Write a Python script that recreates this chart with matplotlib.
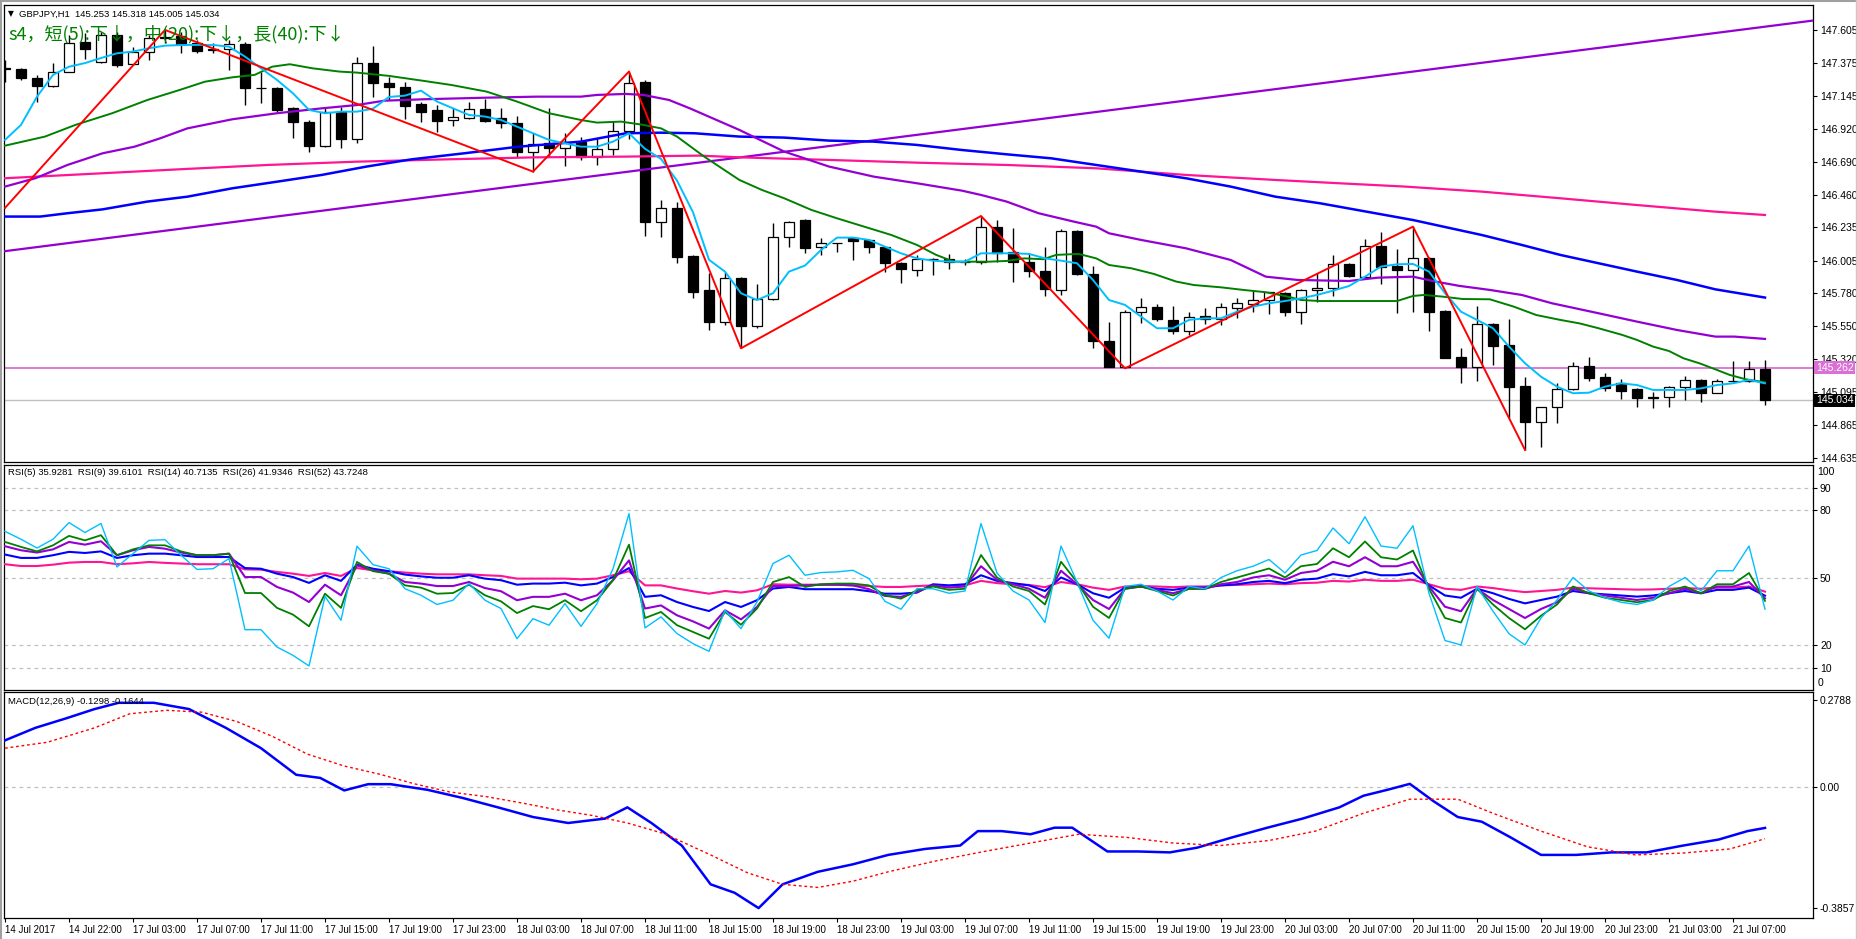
import matplotlib.pyplot as plt
import numpy as np

W, H = 1858, 939

# GBPJPY H1, 14 Jul 18:00 .. 21 Jul 09:00 (bar index 0..110)
opens = [
    147.339, 147.332, 147.269, 147.219, 147.311, 147.519, 147.380, 147.570, 147.367, 147.450,
    147.547, 147.563, 147.512, 147.466, 147.471, 147.505, 147.200, 147.200, 147.061, 146.964,
    146.802, 147.034, 146.846, 147.374, 147.239, 147.207, 147.089, 147.050, 146.980, 146.992,
    147.054, 146.992, 146.957, 146.761, 146.818, 146.784, 146.830, 146.721, 146.779, 146.906,
    147.242, 146.275, 146.367, 146.037, 145.801, 145.576, 145.882, 145.553, 145.736, 146.171,
    146.286, 146.097, 146.125, 146.159, 146.148, 146.097, 145.986, 145.939, 146.014, 146.016,
    145.995, 145.993, 146.240, 146.062, 145.993, 145.935, 145.801, 146.210, 145.909, 145.447,
    145.264, 145.646, 145.680, 145.593, 145.516, 145.620, 145.600, 145.673, 145.704, 145.731,
    145.778, 145.646, 145.801, 145.812, 145.979, 145.893, 146.108, 145.970, 145.939, 146.025,
    145.655, 145.333, 145.269, 145.562, 145.419, 145.135, 144.887, 144.987, 145.111, 145.276,
    145.195, 145.153, 145.111, 145.054, 145.056, 145.130, 145.176, 145.088, 145.169, 145.169,
    145.253]
highs = [
    147.397, 147.339, 147.293, 147.374, 147.570, 147.582, 147.593, 147.593, 147.489, 147.570,
    147.605, 147.593, 147.535, 147.512, 147.535, 147.524, 147.316, 147.212, 147.073, 146.980,
    147.073, 147.073, 147.420, 147.496, 147.281, 147.246, 147.108, 147.084, 147.061, 147.108,
    147.126, 147.061, 147.008, 146.888, 147.061, 146.888, 146.865, 146.853, 146.973, 147.316,
    147.258, 146.425, 146.414, 146.044, 145.916, 145.928, 145.893, 145.842, 146.263, 146.280,
    146.290, 146.159, 146.129, 146.171, 146.152, 146.101, 145.993, 146.044, 146.020, 146.051,
    146.014, 146.314, 146.286, 146.228, 146.055, 146.097, 146.222, 146.217, 145.967, 145.581,
    145.662, 145.748, 145.701, 145.690, 145.650, 145.678, 145.713, 145.743, 145.801, 145.789,
    145.789, 145.805, 145.916, 146.044, 145.990, 146.155, 146.201, 146.085, 146.240, 146.028,
    145.662, 145.396, 145.690, 145.574, 145.600, 145.195, 144.990, 145.153, 145.299, 145.333,
    145.227, 145.183, 145.118, 145.091, 145.137, 145.204, 145.181, 145.181, 145.308, 145.308,
    145.318]
lows = [
    147.246, 147.258, 147.108, 147.212, 147.311, 147.404, 147.374, 147.350, 147.362, 147.397,
    147.512, 147.443, 147.443, 147.443, 147.327, 147.084, 147.096, 147.038, 146.853, 146.756,
    146.795, 146.788, 146.818, 147.142, 147.119, 146.987, 146.969, 146.899, 146.939, 146.987,
    146.969, 146.927, 146.726, 146.622, 146.726, 146.663, 146.703, 146.668, 146.737, 146.846,
    146.178, 146.166, 145.986, 145.743, 145.523, 145.558, 145.396, 145.535, 145.731, 146.101,
    146.060, 146.044, 146.067, 146.009, 146.055, 145.928, 145.847, 145.898, 145.905, 145.944,
    145.974, 145.981, 145.997, 145.859, 145.893, 145.759, 145.766, 145.905, 145.396, 145.269,
    145.257, 145.569, 145.588, 145.495, 145.488, 145.565, 145.558, 145.604, 145.650, 145.632,
    145.623, 145.562, 145.715, 145.761, 145.893, 145.882, 145.842, 145.643, 145.650, 145.519,
    145.327, 145.153, 145.172, 145.280, 144.910, 144.691, 144.709, 144.880, 145.108, 145.169,
    145.100, 145.044, 144.991, 144.980, 144.987, 145.037, 145.021, 145.084, 145.165, 145.165,
    145.005]
closes = [
    147.335, 147.269, 147.219, 147.311, 147.512, 147.471, 147.570, 147.362, 147.450, 147.547,
    147.555, 147.505, 147.461, 147.471, 147.505, 147.200, 147.203, 147.050, 146.969, 146.802,
    147.034, 146.848, 147.374, 147.239, 147.207, 147.080, 147.038, 146.976, 146.999, 147.054,
    146.976, 146.957, 146.761, 146.814, 146.784, 146.830, 146.726, 146.779, 146.906, 147.235,
    146.275, 146.367, 146.032, 145.789, 145.581, 145.882, 145.553, 145.736, 146.171, 146.275,
    146.094, 146.129, 146.127, 146.143, 146.101, 145.986, 145.944, 146.014, 146.016, 145.993,
    145.997, 146.240, 146.060, 145.993, 145.935, 145.805, 146.210, 145.909, 145.447, 145.269,
    145.646, 145.680, 145.597, 145.516, 145.616, 145.597, 145.680, 145.708, 145.731, 145.785,
    145.646, 145.801, 145.817, 145.979, 145.900, 146.108, 145.963, 145.939, 146.025, 145.650,
    145.331, 145.269, 145.562, 145.414, 145.130, 144.887, 144.987, 145.111, 145.276, 145.192,
    145.118, 145.102, 145.049, 145.056, 145.130, 145.176, 145.084, 145.169, 145.172, 145.253,
    145.034]

# moving averages
ma5 = [
    146.842, 146.946, 147.142, 147.293, 147.350, 147.375, 147.410, 147.443, 147.455, 147.478,
    147.496, 147.500, 147.501, 147.501, 147.489, 147.420, 147.339, 147.258, 147.165, 147.050,
    147.027, 147.038, 147.038, 147.059, 147.140, 147.149, 147.184, 147.108, 147.061, 147.015,
    147.004, 146.980, 146.934, 146.888, 146.842, 146.818, 146.795, 146.795, 146.830, 146.888,
    146.780, 146.710, 146.560, 146.340, 146.010, 145.928, 145.778, 145.731, 145.778, 145.928,
    145.970, 146.078, 146.164, 146.164, 146.148, 146.101, 146.055, 146.020, 146.004, 145.997,
    145.997, 146.055, 146.055, 146.055, 146.051, 146.020, 146.004, 145.986, 145.870, 145.731,
    145.697, 145.616, 145.535, 145.535, 145.593, 145.604, 145.604, 145.650, 145.685, 145.708,
    145.724, 145.743, 145.766, 145.796, 145.828, 145.893, 145.963, 145.979, 145.981, 145.928,
    145.778, 145.650, 145.593, 145.535, 145.408, 145.292, 145.199, 145.130, 145.084, 145.088,
    145.130, 145.153, 145.141, 145.107, 145.107, 145.107, 145.118, 145.141, 145.153, 145.176,
    145.153]

ma20_x = [0, 2.5, 4.4, 6.7, 8.9, 10.9, 12.5, 14.2, 15.6, 16.7, 17.8, 19.2, 20.9, 22, 24,
          26.2, 27.9, 30.1, 32, 34, 36, 37, 38.5, 39.9, 41, 42, 43.7, 45.9, 47.3, 48.7,
          50.4, 52, 53.7, 55.4, 57, 58.2, 59.3, 60.4, 61.5, 62.6, 63.7, 64.9, 65.7, 67.1,
          68.2, 69, 70.4, 71.8, 73.2, 74.3, 76, 77.4, 78.8, 80.2, 81, 82.2, 84.1, 87, 88,
          88.7, 89.9, 91.1, 92.8, 94.3, 95.7, 97.2, 98.4, 99.6, 101.1, 102, 103, 104,
          104.9, 105.9, 106.9, 107.8, 108.8, 110]
ma20_y = [146.802, 146.865, 146.946, 147.027, 147.119, 147.188, 147.246, 147.276, 147.293,
          147.350, 147.367, 147.339, 147.316, 147.309, 147.286, 147.251, 147.223, 147.177,
          147.108, 147.027, 146.980, 146.962, 146.969, 146.946, 146.922, 146.865, 146.726,
          146.564, 146.495, 146.437, 146.356, 146.298, 146.240, 146.182, 146.113, 146.044,
          145.997, 145.997, 145.997, 146.002, 146.020, 146.014, 146.044, 146.051, 146.020,
          145.974, 145.951, 145.912, 145.859, 145.835, 145.819, 145.801, 145.785, 145.754,
          145.731, 145.724, 145.724, 145.724, 145.759, 145.766, 145.754, 145.738, 145.736,
          145.685, 145.627, 145.593, 145.569, 145.535, 145.488, 145.454, 145.408, 145.377,
          145.327, 145.292, 145.250, 145.211, 145.181, 145.160]

ma40_x = [0, 1.9, 3.9, 6.1, 8.1, 9.7, 11.4, 14.2, 17, 19.8, 22, 23.7, 26.2, 30.1, 33.2, 36,
          37, 38.8, 39.9, 41.5, 42.8, 45.9, 48.7, 51.5, 54.3, 57, 59.8, 61, 62.6, 64.6,
          66.8, 68.2, 69, 71, 73.8, 76.6, 78.8, 80.8, 84, 85.8, 88, 89.4, 90.9, 92.8, 94.8,
          96.7, 99.6, 102, 104.5, 106.9, 108.1, 110]
ma40_y = [146.518, 146.576, 146.668, 146.749, 146.795, 146.853, 146.922, 146.985, 147.027,
          147.061, 147.084, 147.114, 147.124, 147.135, 147.142, 147.142, 147.154, 147.161,
          147.154, 147.119, 147.061, 146.911, 146.761, 146.657, 146.587, 146.541, 146.490,
          146.460, 146.414, 146.333, 146.275, 146.240, 146.194, 146.148, 146.090, 146.009,
          145.893, 145.870, 145.863, 145.886, 145.893, 145.859, 145.829, 145.801, 145.766,
          145.708, 145.639, 145.581, 145.523, 145.477, 145.477, 145.461]

ma_blue_x = [0, 2.2, 3.9, 6.1, 8.9, 11.4, 14.2, 17, 19.8, 22.6, 25.4, 28.7, 32.1, 36, 38.8,
             41, 43.1, 45.9, 48.7, 51.5, 54.3, 57, 59.8, 62.6, 65.4, 68.2, 71, 73.8, 76.6,
             79.4, 82.2, 85.1, 88, 89.9, 92.3, 94.8, 97.2, 99.6, 102, 104.5, 106.9, 110]
ma_blue_y = [146.310, 146.310, 146.333, 146.360, 146.414, 146.448, 146.506, 146.552, 146.599,
             146.657, 146.707, 146.749, 146.795, 146.830, 146.888, 146.892, 146.888, 146.865,
             146.858, 146.837, 146.830, 146.807, 146.772, 146.742, 146.714, 146.668, 146.622,
             146.576, 146.518, 146.448, 146.402, 146.344, 146.286, 146.240, 146.182, 146.113,
             146.044, 145.986, 145.928, 145.870, 145.805, 145.748]

ma_pink_x = [0, 5.3, 10.9, 16.4, 22, 27.6, 33.2, 38.8, 43.4, 45.9, 51.5, 57, 62.6, 68.2, 73.8,
             79.4, 82.7, 87.5, 92.3, 97.2, 102, 106.9, 110]
ma_pink_y = [146.576, 146.606, 146.638, 146.668, 146.691, 146.707, 146.721, 146.726, 146.733,
             146.721, 146.703, 146.684, 146.668, 146.645, 146.599, 146.564, 146.545, 146.518,
             146.483, 146.437, 146.390, 146.344, 146.321]

zigzag_x = [0, 10, 33, 39, 46, 61, 70, 88, 95]
zigzag_y = [146.37, 147.605, 146.622, 147.316, 145.396, 146.314, 145.257, 146.240, 144.691]

trend_x = [0, 113]
trend_y = [146.07, 147.67]

hline_price = 145.262
bid_price = 145.034

price_ticks = [147.605, 147.375, 147.145, 146.920, 146.690, 146.460, 146.235,
               146.005, 145.780, 145.550, 145.320, 145.095, 144.865, 144.635]

# RSI panel
rsi5 = [70.5, 67.0, 63.1, 67.0, 74.4, 70.0, 74.0, 54.7, 60.6, 66.5,
        66.8, 59.9, 53.6, 53.9, 58.4, 26.8, 26.8, 19.1, 15.4, 10.7,
        41.6, 31.0, 63.9, 55.7, 53.9, 45.0, 42.1, 38.0, 39.9, 47.3,
        39.9, 36.2, 22.8, 31.7, 28.8, 38.4, 28.3, 38.4, 53.9, 78.4,
        27.6, 32.5, 25.1, 20.6, 17.2, 35.4, 27.3, 39.1, 56.2, 59.9,
        51.0, 52.2, 52.5, 53.2, 49.5, 39.4, 35.9, 45.1, 45, 43,
        44, 74, 52, 44, 40, 30, 64, 48, 31, 23,
        46, 47, 44, 40, 46, 45, 50, 53, 55, 58,
        52, 60, 62, 72, 65, 77, 64, 63, 73, 43,
        22, 20, 46, 35, 25, 20, 32, 40, 50, 44,
        41, 39, 38, 40, 46, 50, 44, 53, 53, 64,
        35.93]
rsi9 = [65.8, 63.6, 61.6, 64.3, 68.5, 66.5, 68.8, 59.9, 62.5, 64.3,
        64.3, 61.6, 59.9, 59.9, 60.6, 43.1, 43.1, 36.5, 33.5, 28.3,
        42.8, 36.5, 56.9, 52.8, 51.7, 46.5, 45.5, 42.8, 43.1, 46.8,
        42.1, 39.4, 34.2, 37.3, 35.9, 39.9, 35.0, 39.9, 48.8, 64.6,
        32.0, 34.7, 28.8, 25.8, 22.8, 34.7, 29.0, 36.2, 48.0, 50.2,
        45.8, 47.0, 47.3, 47.3, 46.5, 42.1, 40.6, 44.3, 46, 44.5,
        45, 60, 50, 46, 44, 38, 57, 48, 37, 32,
        45, 46, 44, 42, 45, 45, 48, 50, 52, 54,
        50, 55, 56, 63, 59, 66, 59, 58, 62, 45,
        32, 30, 45, 38, 32, 27, 33, 38, 46, 43,
        41, 40, 39, 40, 44, 46, 43, 47, 47, 52,
        39.61]
rsi14 = [63.9, 62.1, 61.1, 62.5, 65.8, 64.6, 66.1, 59.9, 62.1, 63.6,
         62.8, 61.1, 59.9, 59.9, 60.6, 50.2, 50.2, 45.8, 43.3, 39.1,
         46.8, 42.1, 55.4, 53.2, 51.7, 48.0, 47.3, 46.2, 46.2, 48.0,
         45.3, 43.9, 39.9, 41.4, 41.4, 42.8, 39.9, 42.1, 48.8, 57.6,
         36.2, 37.6, 33.2, 30.5, 27.3, 35.4, 31.4, 36.9, 46.2, 46.2,
         46.5, 46.8, 46.8, 46.5, 44.8, 41.8, 41.4, 43.6, 46.5, 45.5,
         46, 55, 49, 47, 45, 41, 53, 47, 40, 36,
         45, 46, 44.5, 43, 45, 45, 47, 48, 50, 51,
         49, 52, 53, 57, 55, 59, 55, 55, 57, 46,
         37, 35, 45, 40, 36, 32, 36, 39, 45, 43,
         42, 41, 40, 41, 43, 45, 43, 46, 46, 48,
         40.71]
rsi26 = [60.2, 58.7, 58.7, 59.9, 61.4, 60.9, 61.6, 58.7, 59.9, 60.6,
         60.6, 59.9, 59.1, 59.1, 59.1, 54.2, 53.9, 51.7, 50.2, 47.6,
         51.0, 48.5, 55.7, 53.9, 52.8, 51.3, 50.5, 49.9, 49.9, 51.0,
         49.5, 48.8, 46.8, 47.3, 47.3, 47.7, 46.5, 47.3, 50.2, 54.2,
         41.4, 42.1, 39.1, 36.9, 35.1, 39.1, 36.9, 39.9, 45.1, 45.8,
         44.8, 44.8, 44.8, 44.8, 43.9, 42.8, 42.8, 43.3, 47, 46.5,
         47, 51, 48.5, 47.5, 46.5, 44, 50, 47, 43, 41,
         45.5, 46, 45, 44.5, 45.5, 45.5, 46.5, 47, 48, 48.5,
         47.5, 49, 49.5, 51.5, 50.5, 52.5, 51, 51, 52, 46.5,
         42, 41, 45, 43, 40.5, 38.5, 40, 41.5, 44, 43,
         42.5, 42, 41.5, 42, 43, 44, 43, 44.5, 44.5, 45.5,
         41.93]
rsi52 = [55.9, 55.1, 55.1, 55.7, 56.6, 56.9, 56.9, 55.9, 56.3, 56.9,
         56.5, 56.2, 55.9, 55.9, 55.9, 53.6, 53.5, 52.5, 51.7, 50.7,
         52.0, 50.7, 54.2, 53.2, 52.8, 52.2, 51.7, 51.4, 51.4, 51.4,
         51.0, 50.7, 49.5, 49.5, 49.5, 49.5, 49.2, 49.5, 51.0, 52.8,
         46.5, 46.5, 45.1, 43.9, 42.8, 44.0, 43.3, 44.3, 47.0, 46.8,
         46.8, 46.8, 46.8, 46.5, 46.2, 45.8, 45.8, 46.2, 46.5, 46.3,
         46.5, 48.5, 47.5, 47, 46.7, 45.7, 48, 47, 45.5, 44.5,
         46, 46.2, 46, 45.7, 46, 46, 46.5, 46.7, 47, 47.3,
         47, 47.5, 47.7, 48.5, 48.2, 49, 48.5, 48.5, 49, 47,
         45, 44.5, 46, 45.3, 44.3, 43.5, 44, 44.5, 45.5, 45.2,
         45, 44.8, 44.6, 44.7, 45, 45.3, 45, 45.5, 45.5, 46,
         43.72]
rsi_levels = [90, 80, 50, 20, 10]

# MACD panel
macd_x = [0, 1.9, 3.8, 5.6, 7.1, 9.3, 11.5, 13.8, 16, 18.2, 19.7, 21.2, 22.7, 24.1, 26.4,
          28.6, 30.8, 33, 35.2, 37.5, 38.9, 40.4, 42.3, 44.1, 45.6, 47.1, 48.6, 50.8, 53,
          55.2, 57.5, 59.7, 60.8, 62.3, 64.1, 65.6, 66.7, 68.9, 70.8, 72.8, 74.5, 76.7,
          78.9, 81.1, 83.4, 84.9, 86.4, 87.8, 89.3, 90.8, 92.3, 94.1, 96, 98.2, 100.4,
          102.6, 104.9, 107.1, 108.9, 110]
macd_y = [0.15, 0.19, 0.22, 0.25, 0.27, 0.27, 0.25, 0.19, 0.125, 0.04, 0.03, -0.01, 0.01,
          0.01, -0.008, -0.034, -0.064, -0.095, -0.114, -0.10, -0.064, -0.114, -0.186,
          -0.31, -0.337, -0.386, -0.31, -0.27, -0.246, -0.216, -0.197, -0.186, -0.14,
          -0.14, -0.15, -0.129, -0.129, -0.205, -0.205, -0.208, -0.193, -0.16, -0.129,
          -0.10, -0.064, -0.027, -0.008, 0.011, -0.045, -0.095, -0.11, -0.16, -0.216,
          -0.216, -0.208, -0.208, -0.186, -0.167, -0.14, -0.1298]
signal_x = [0, 2.65, 5.6, 7.8, 10.1, 12.3, 14.5, 16.7, 18.9, 21.2, 23.4, 25.6, 27.8, 30.1,
            32.3, 34.5, 36.7, 38.9, 41.2, 44.1, 46.4, 48.6, 50.8, 53, 55.2, 58.2, 61.2,
            64.1, 67.1, 70.1, 73, 76, 79, 81.9, 84.9, 87.8, 90.8, 93, 96, 98.9, 101.9,
            104.9, 107.8, 110]
signal_y = [0.125, 0.144, 0.19, 0.235, 0.246, 0.24, 0.21, 0.163, 0.106, 0.068, 0.042, 0.011,
            -0.015, -0.03, -0.05, -0.072, -0.09, -0.114, -0.148, -0.216, -0.273, -0.31,
            -0.32, -0.30, -0.27, -0.235, -0.205, -0.178, -0.15, -0.16, -0.178, -0.186,
            -0.17, -0.14, -0.083, -0.038, -0.038, -0.083, -0.14, -0.19, -0.216, -0.21,
            -0.197, -0.1644]
macd_ticks = [0.2788, 0.0, -0.3857]
macd_tick_labels = ['0.2788', '0.00', '-0.3857']

time_labels = ['14 Jul 2017', '14 Jul 22:00', '17 Jul 03:00', '17 Jul 07:00', '17 Jul 11:00',
               '17 Jul 15:00', '17 Jul 19:00', '17 Jul 23:00', '18 Jul 03:00', '18 Jul 07:00',
               '18 Jul 11:00', '18 Jul 15:00', '18 Jul 19:00', '18 Jul 23:00', '19 Jul 03:00',
               '19 Jul 07:00', '19 Jul 11:00', '19 Jul 15:00', '19 Jul 19:00', '19 Jul 23:00',
               '20 Jul 03:00', '20 Jul 07:00', '20 Jul 11:00', '20 Jul 15:00', '20 Jul 19:00',
               '20 Jul 23:00', '21 Jul 03:00', '21 Jul 07:00']

header = "GBPJPY,H1  145.253 145.318 145.005 145.034"
trend_text = "s4，短(5):下↓，中(20):下↓，長(40):下↓"
rsi_header = "RSI(5) 35.9281  RSI(9) 39.6101  RSI(14) 40.7135  RSI(26) 41.9346  RSI(52) 43.7248"
macd_header = "MACD(12,26,9) -0.1298 -0.1644"

plt.rcParams['font.family'] = ['Liberation Sans', 'DejaVu Sans']
LBL = 7.5
HDR = 6.8


def panel(top, bottom):
    a = fig.add_axes([4 / W, 1 - bottom / H, (1813 - 4) / W, (bottom - top) / H])
    a.set_xlim(-0.0625, 113.0)
    for s in a.spines.values():
        s.set_color('black')
        s.set_linewidth(0.9)
    a.yaxis.tick_right()
    a.tick_params(axis='y', direction='out', length=3, width=0.8, pad=2,
                  labelsize=LBL, colors='black')
    a.tick_params(axis='x', bottom=False, labelbottom=False)
    return a


fig = plt.figure(figsize=(W / 100, H / 100), dpi=100)
fig.patch.set_facecolor('white')

# window frame
fig.add_artist(plt.Line2D([0, 1], [1 - 1 / H, 1 - 1 / H], color='#A0A0A0', lw=1.5))
fig.add_artist(plt.Line2D([1 / W, 1 / W], [0, 1], color='#A0A0A0', lw=1.5))
fig.add_artist(plt.Line2D([1 - 2 / W, 1 - 2 / W], [0, 1], color='#C8C8C8', lw=1))

# ---- price panel
ax = panel(5, 462)
ax.set_ylim(144.607, 147.778)

x = np.arange(len(closes))
o, h, l, c = (np.array(v) for v in (opens, highs, lows, closes))
ax.vlines(x, l, h, color='black', lw=1, zorder=3)
body_lo = np.minimum(o, c)
body_h = np.maximum(np.abs(c - o), 0.002)
ax.bar(x, body_h, bottom=body_lo, width=0.6,
       color=np.where(c > o, 'white', 'black'), edgecolor='black', linewidth=0.9, zorder=4)

ax.plot(trend_x, trend_y, color='#9400D3', lw=1.6, zorder=5)
ax.plot(ma_pink_x, ma_pink_y, color='#FF1493', lw=1.6, zorder=5)
ax.plot(ma_blue_x, ma_blue_y, color='#0000FF', lw=1.8, zorder=5)
ax.plot(ma40_x, ma40_y, color='#9400D3', lw=1.6, zorder=5)
ax.plot(ma20_x, ma20_y, color='#008000', lw=1.4, zorder=5)
ax.plot(x, ma5, color='#00BFFF', lw=1.4, zorder=5)
ax.plot(zigzag_x, zigzag_y, color='#FF0000', lw=1.4, zorder=6)

ax.axhline(hline_price, color='#DA70D6', lw=1.3, zorder=2)
ax.axhline(bid_price, color='#C0C0C0', lw=1, zorder=1)

ax.set_yticks(price_ticks)
ax.set_yticklabels([f'{v:.3f}' for v in price_ticks])
ytr = ax.get_yaxis_transform()
ax.text(1.0015, hline_price, f'{hline_price:.3f}', transform=ytr, va='center', ha='left',
        color='white', fontsize=LBL, bbox=dict(fc='#DA70D6', ec='none', pad=1.0), zorder=10)
ax.text(1.0015, bid_price, f'{bid_price:.3f}', transform=ytr, va='center', ha='left',
        color='white', fontsize=LBL, bbox=dict(fc='black', ec='none', pad=1.0), zorder=10)

fig.text(8 / W, 1 - 14 / H, '▼', fontsize=5.5, va='center', ha='left', family='DejaVu Sans')
fig.text(19 / W, 1 - 14 / H, header, fontsize=HDR, va='center', ha='left')
fig.text(8 / W, 1 - 34 / H, trend_text, fontsize=13, va='center', ha='left',
         color='#008000', family=['Noto Sans CJK JP', 'DejaVu Sans'])

# ---- RSI panel
ar = panel(465, 690)
ar.set_ylim(0, 100)
for lv in rsi_levels:
    ar.axhline(lv, color='#C0C0C0', lw=0.9, ls=(0, (3, 3)), zorder=1)
ar.plot(x, rsi52, color='#FF1493', lw=1.5, zorder=3)
ar.plot(x, rsi26, color='#0000FF', lw=1.5, zorder=3)
ar.plot(x, rsi14, color='#9400D3', lw=1.5, zorder=3)
ar.plot(x, rsi9, color='#008000', lw=1.3, zorder=3)
ar.plot(x, rsi5, color='#00BFFF', lw=1.0, zorder=3)
ar.set_yticks(rsi_levels)
ar.set_yticklabels([str(v) for v in rsi_levels])
rtr = ar.get_yaxis_transform()
ar.text(1.0025, 97, '100', transform=rtr, va='center', ha='left', fontsize=LBL)
ar.text(1.0025, 3, '0', transform=rtr, va='center', ha='left', fontsize=LBL)
fig.text(8 / W, 1 - 473 / H, rsi_header, fontsize=HDR, va='center', ha='left')

# ---- MACD panel
am = panel(692, 918)
am.set_ylim(-0.4176, 0.3045)
am.axhline(0, color='#C0C0C0', lw=0.9, ls=(0, (3, 3)), zorder=1)
am.plot(macd_x, macd_y, color='#0000FF', lw=1.8, zorder=3)
am.plot(signal_x, signal_y, color='#FF0000', lw=1.0, ls=(0, (2, 2)), zorder=3)
am.set_yticks(macd_ticks)
am.set_yticklabels(macd_tick_labels)
fig.text(8 / W, 1 - 701 / H, macd_header, fontsize=HDR, va='center', ha='left')

am.set_xticks(np.arange(0, 4 * len(time_labels), 4))
am.set_xticklabels(time_labels, ha='left')
am.tick_params(axis='x', bottom=True, labelbottom=True, direction='out', length=3,
               width=0.8, pad=2, labelsize=7)

fig.savefig('out.png', dpi=100, facecolor='white')
